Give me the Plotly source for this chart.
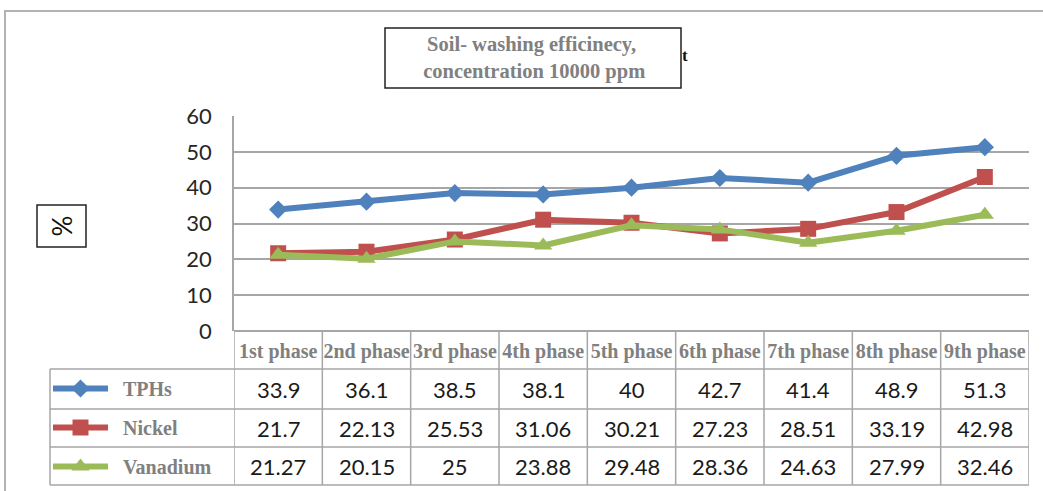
import plotly.graph_objects as go

W, H = 1043, 491

phases = ["1st phase", "2nd phase", "3rd phase", "4th phase", "5th phase",
          "6th phase", "7th phase", "8th phase", "9th phase"]
series_names = ["TPHs", "Nickel", "Vanadium"]
tphs = [33.9, 36.1, 38.5, 38.1, 40, 42.7, 41.4, 48.9, 51.3]
nickel = [21.7, 22.13, 25.53, 31.06, 30.21, 27.23, 28.51, 33.19, 42.98]
vanadium = [21.27, 20.15, 25, 23.88, 29.48, 28.36, 24.63, 27.99, 32.46]
y_ticks = [0, 10, 20, 30, 40, 50, 60]


def px(x):
    return x / W


def py(y):
    return 1 - y / H


SERIF = "Liberation Serif, Times New Roman, serif"
SANS = "Lato, Carlito, Calibri, sans-serif"
GRAY_TXT = "#808080"
GRID = "#a6a6a6"

colors = ["#4F81BD", "#C0504D", "#9BBB59"]
symbols = ["diamond", "square", "triangle-up"]
msizes = [14, 16, 16]
all_vals = [tphs, nickel, vanadium]

fig = go.Figure()
for i, (name, vals) in enumerate(zip(series_names, all_vals)):
    fig.add_trace(go.Scatter(
        x=phases, y=vals, mode="lines+markers",
        name="<b>\u00a0\u00a0" + name + "</b>",
        legendgroup=name,
        line=dict(color=colors[i], width=6),
        marker=dict(symbol=symbols[i], size=msizes[i], color=colors[i]),
    ))

# plot-area pixel geometry
X0, X1 = 234, 1029
Y_TOP, Y_ZERO = 116, 331
ROW_LINES = [369, 409, 447, 485]
TABLE_LEFT = 50

shapes = []
# outer frame
shapes.append(dict(type="rect", xref="paper", yref="paper",
                   x0=px(5), x1=px(1060), y0=py(11), y1=py(510),
                   line=dict(color="#b3b3b3", width=2)))
# title box
shapes.append(dict(type="rect", xref="paper", yref="paper",
                   x0=px(385), x1=px(681), y0=py(28), y1=py(88),
                   line=dict(color="#222", width=1.5)))
# % box
shapes.append(dict(type="rect", xref="paper", yref="paper",
                   x0=px(37), x1=px(86), y0=py(205), y1=py(247),
                   line=dict(color="#222", width=1.5)))
# table vertical lines on category boundaries
for k in range(len(phases) + 1):
    shapes.append(dict(type="line", xref="x", yref="paper",
                       x0=k - 0.5, x1=k - 0.5, y0=py(Y_ZERO), y1=py(ROW_LINES[-1]),
                       line=dict(color=GRID, width=1.5)))
# legend column left line
shapes.append(dict(type="line", xref="paper", yref="paper",
                   x0=px(TABLE_LEFT), x1=px(TABLE_LEFT),
                   y0=py(ROW_LINES[0]), y1=py(ROW_LINES[-1]),
                   line=dict(color=GRID, width=1.5)))
# table horizontal lines
for yl in ROW_LINES:
    shapes.append(dict(type="line", xref="paper", yref="paper",
                       x0=px(TABLE_LEFT), x1=px(X1), y0=py(yl), y1=py(yl),
                       line=dict(color=GRID, width=1.5)))

annotations = []
annotations.append(dict(xref="paper", yref="paper", x=px(531), y=py(58),
                        text="<b>Soil- washing efficinecy,<br> concentration 10000 ppm</b>",
                        showarrow=False, xanchor="center", yanchor="middle",
                        font=dict(family=SERIF, size=20.5, color=GRAY_TXT)))
annotations.append(dict(xref="paper", yref="paper", x=px(680), y=py(55),
                        text="<b>t</b>", showarrow=False, xanchor="left", yanchor="middle",
                        font=dict(family=SERIF, size=17, color="#111")))
annotations.append(dict(xref="paper", yref="paper", x=px(61.5), y=py(226),
                        text="%", textangle=-90, showarrow=False,
                        xanchor="center", yanchor="middle",
                        font=dict(family=SANS, size=26, color="#111")))

row_centers = [(ROW_LINES[r] + ROW_LINES[r + 1]) / 2 for r in range(3)]
for r, vals in enumerate(all_vals):
    for ph, v in zip(phases, vals):
        annotations.append(dict(xref="x", yref="paper", x=ph, y=py(row_centers[r]),
                                text=f"{v:g}", showarrow=False,
                                xanchor="center", yanchor="middle",
                                font=dict(family=SANS, size=22, color="#1a1a1a")))

fig.update_layout(
    width=W, height=H, autosize=False,
    margin=dict(l=0, r=0, t=0, b=0, pad=0, autoexpand=False),
    paper_bgcolor="white", plot_bgcolor="white",
    shapes=shapes, annotations=annotations,
    showlegend=True,
    legend=dict(x=px(48), y=py(369), xanchor="left", yanchor="top",
                xref="container", yref="container",
                font=dict(family=SERIF, size=20, color=GRAY_TXT),
                itemwidth=55, tracegroupgap=10, bgcolor="rgba(0,0,0,0)",
                traceorder="grouped"),
    xaxis=dict(domain=[px(X0), px(X1)], type="category", range=[-0.5, 8.5],
               automargin=False,
               showgrid=False, zeroline=False, showline=False,
               ticks="", tickfont=dict(family=SERIF, size=20, color=GRAY_TXT),
               tickprefix="<b>", ticksuffix="</b>", ticklabelstandoff=6),
    yaxis=dict(domain=[py(Y_ZERO), py(Y_TOP)], range=[0, 60], tickvals=y_ticks,
               automargin=False,
               showgrid=True, gridcolor=GRID, gridwidth=1.5,
               zeroline=True, zerolinecolor=GRID, zerolinewidth=1.5,
               showline=True, linecolor=GRID, linewidth=1.5,
               ticks="", ticklabelstandoff=16,
               tickfont=dict(family=SANS, size=22, color="#262626")),
)

fig.write_html("out.html",
               config={"displayModeBar": False},
               post_script="document.body.style.margin='0';"
                           "document.body.style.overflow='hidden';")
